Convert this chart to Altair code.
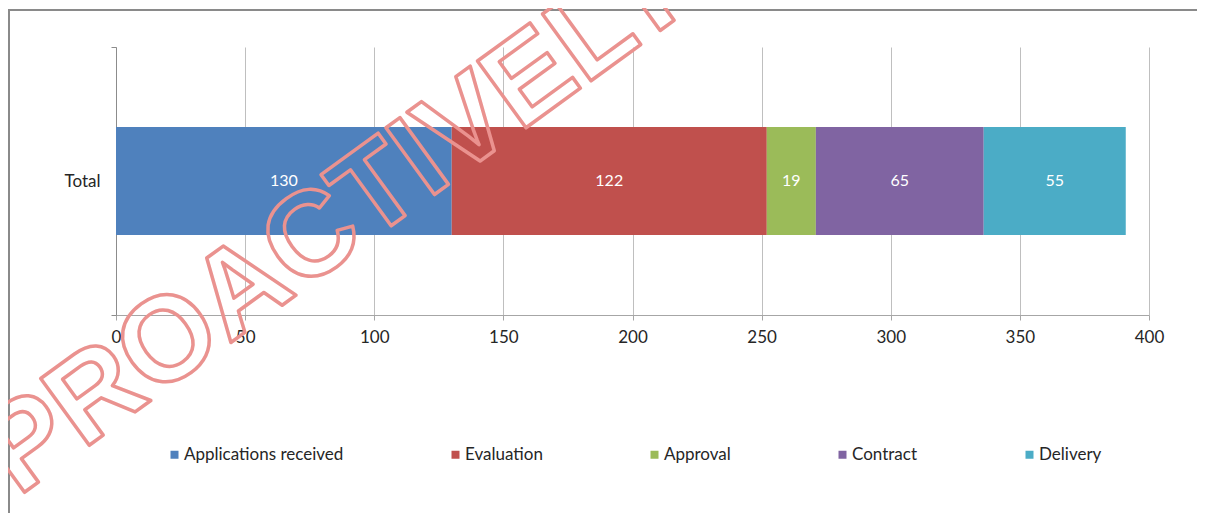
import altair as alt
import pandas as pd

# ---- data ----
categories = ["Applications received", "Evaluation", "Approval", "Contract", "Delivery"]
values = [130, 122, 19, 65, 55]
row_label = ["Total"] * 5
colors = ["#4F81BD", "#C0504D", "#9BBB59", "#8064A2", "#4BACC6"]
x_ticks = [0, 50, 100, 150, 200, 250, 300, 350, 400]
watermark = "PROACTIVELY"

FONT = "Lato"
df = pd.DataFrame({
    "stage": categories,
    "value": values,
    "row": row_label,
    "order": list(range(len(categories))),
})

base = alt.Chart(df).transform_stack(
    stack="value", groupby=["row"], as_=["v0", "v1"],
    sort=[alt.SortField("order", order="ascending")],
).transform_calculate(mid="(datum.v0 + datum.v1) / 2")

y_enc = alt.Y(
    "row:N", title=None,
    scale=alt.Scale(paddingInner=0, paddingOuter=0),
    axis=alt.Axis(
        tickBand="extent", domainColor="#8c8c8c", tickColor="#8c8c8c",
        tickSize=5, labelPadding=11, labelFont=FONT, labelFontSize=17,
        labelColor="#262626", grid=False,
    ),
)

bars = base.mark_bar(size=108).encode(
    x=alt.X(
        "v0:Q", title=None,
        scale=alt.Scale(domain=[0, 400], nice=False),
        axis=alt.Axis(
            values=x_ticks, grid=True, gridColor="#bfbfbf", domainColor="#a6a6a6",
            tickColor="#a6a6a6", tickSize=5, labelPadding=9, labelFont=FONT,
            labelFontSize=17, labelColor="#262626", labelFlush=False,
        ),
    ),
    x2="v1:Q",
    y=y_enc,
    color=alt.Color(
        "stage:N",
        scale=alt.Scale(domain=categories, range=colors),
        sort=categories,
        legend=alt.Legend(
            title=None, orient="none", legendX=50, legendY=399,
            direction="horizontal", symbolType="square", symbolSize=64,
            symbolStrokeWidth=0, labelFont=FONT, labelFontSize=17,
            labelColor="#262626", labelLimit=400, labelOffset=1,
            columnPadding=103,
        ),
    ),
    order=alt.Order("order:Q"),
)

labels = base.mark_text(color="white", font=FONT, fontSize=16, baseline="middle").encode(
    x="mid:Q",
    y=alt.Y("row:N"),
    text="value:Q",
)

one = pd.DataFrame({"a": [0]})
frame = alt.Chart(one).mark_rect(fillOpacity=0, stroke="#8a8a8a", strokeWidth=2).encode(
    x=alt.value(-107), x2=alt.value(1300), y=alt.value(-37), y2=alt.value(700),
)

mark_wm = alt.Chart(one).mark_text(
    text=watermark, font="Liberation Sans", fontWeight="bold", fontSize=120,
    angle=324, align="left", baseline="alphabetic", fillOpacity=0,
    stroke="#EA928F", strokeWidth=3.5, strokeJoin="round",
).encode(x=alt.value(-98), y=alt.value(450))

chart = alt.layer(frame, bars, labels, mark_wm).properties(
    width=1033, height=268,
    padding={"left": 108, "top": 39, "right": 48, "bottom": 198},
    autosize=alt.AutoSizeParams(type="none"),
).configure_view(stroke=None)

chart.save("out.html", embed_options={"renderer": "svg", "actions": False})
